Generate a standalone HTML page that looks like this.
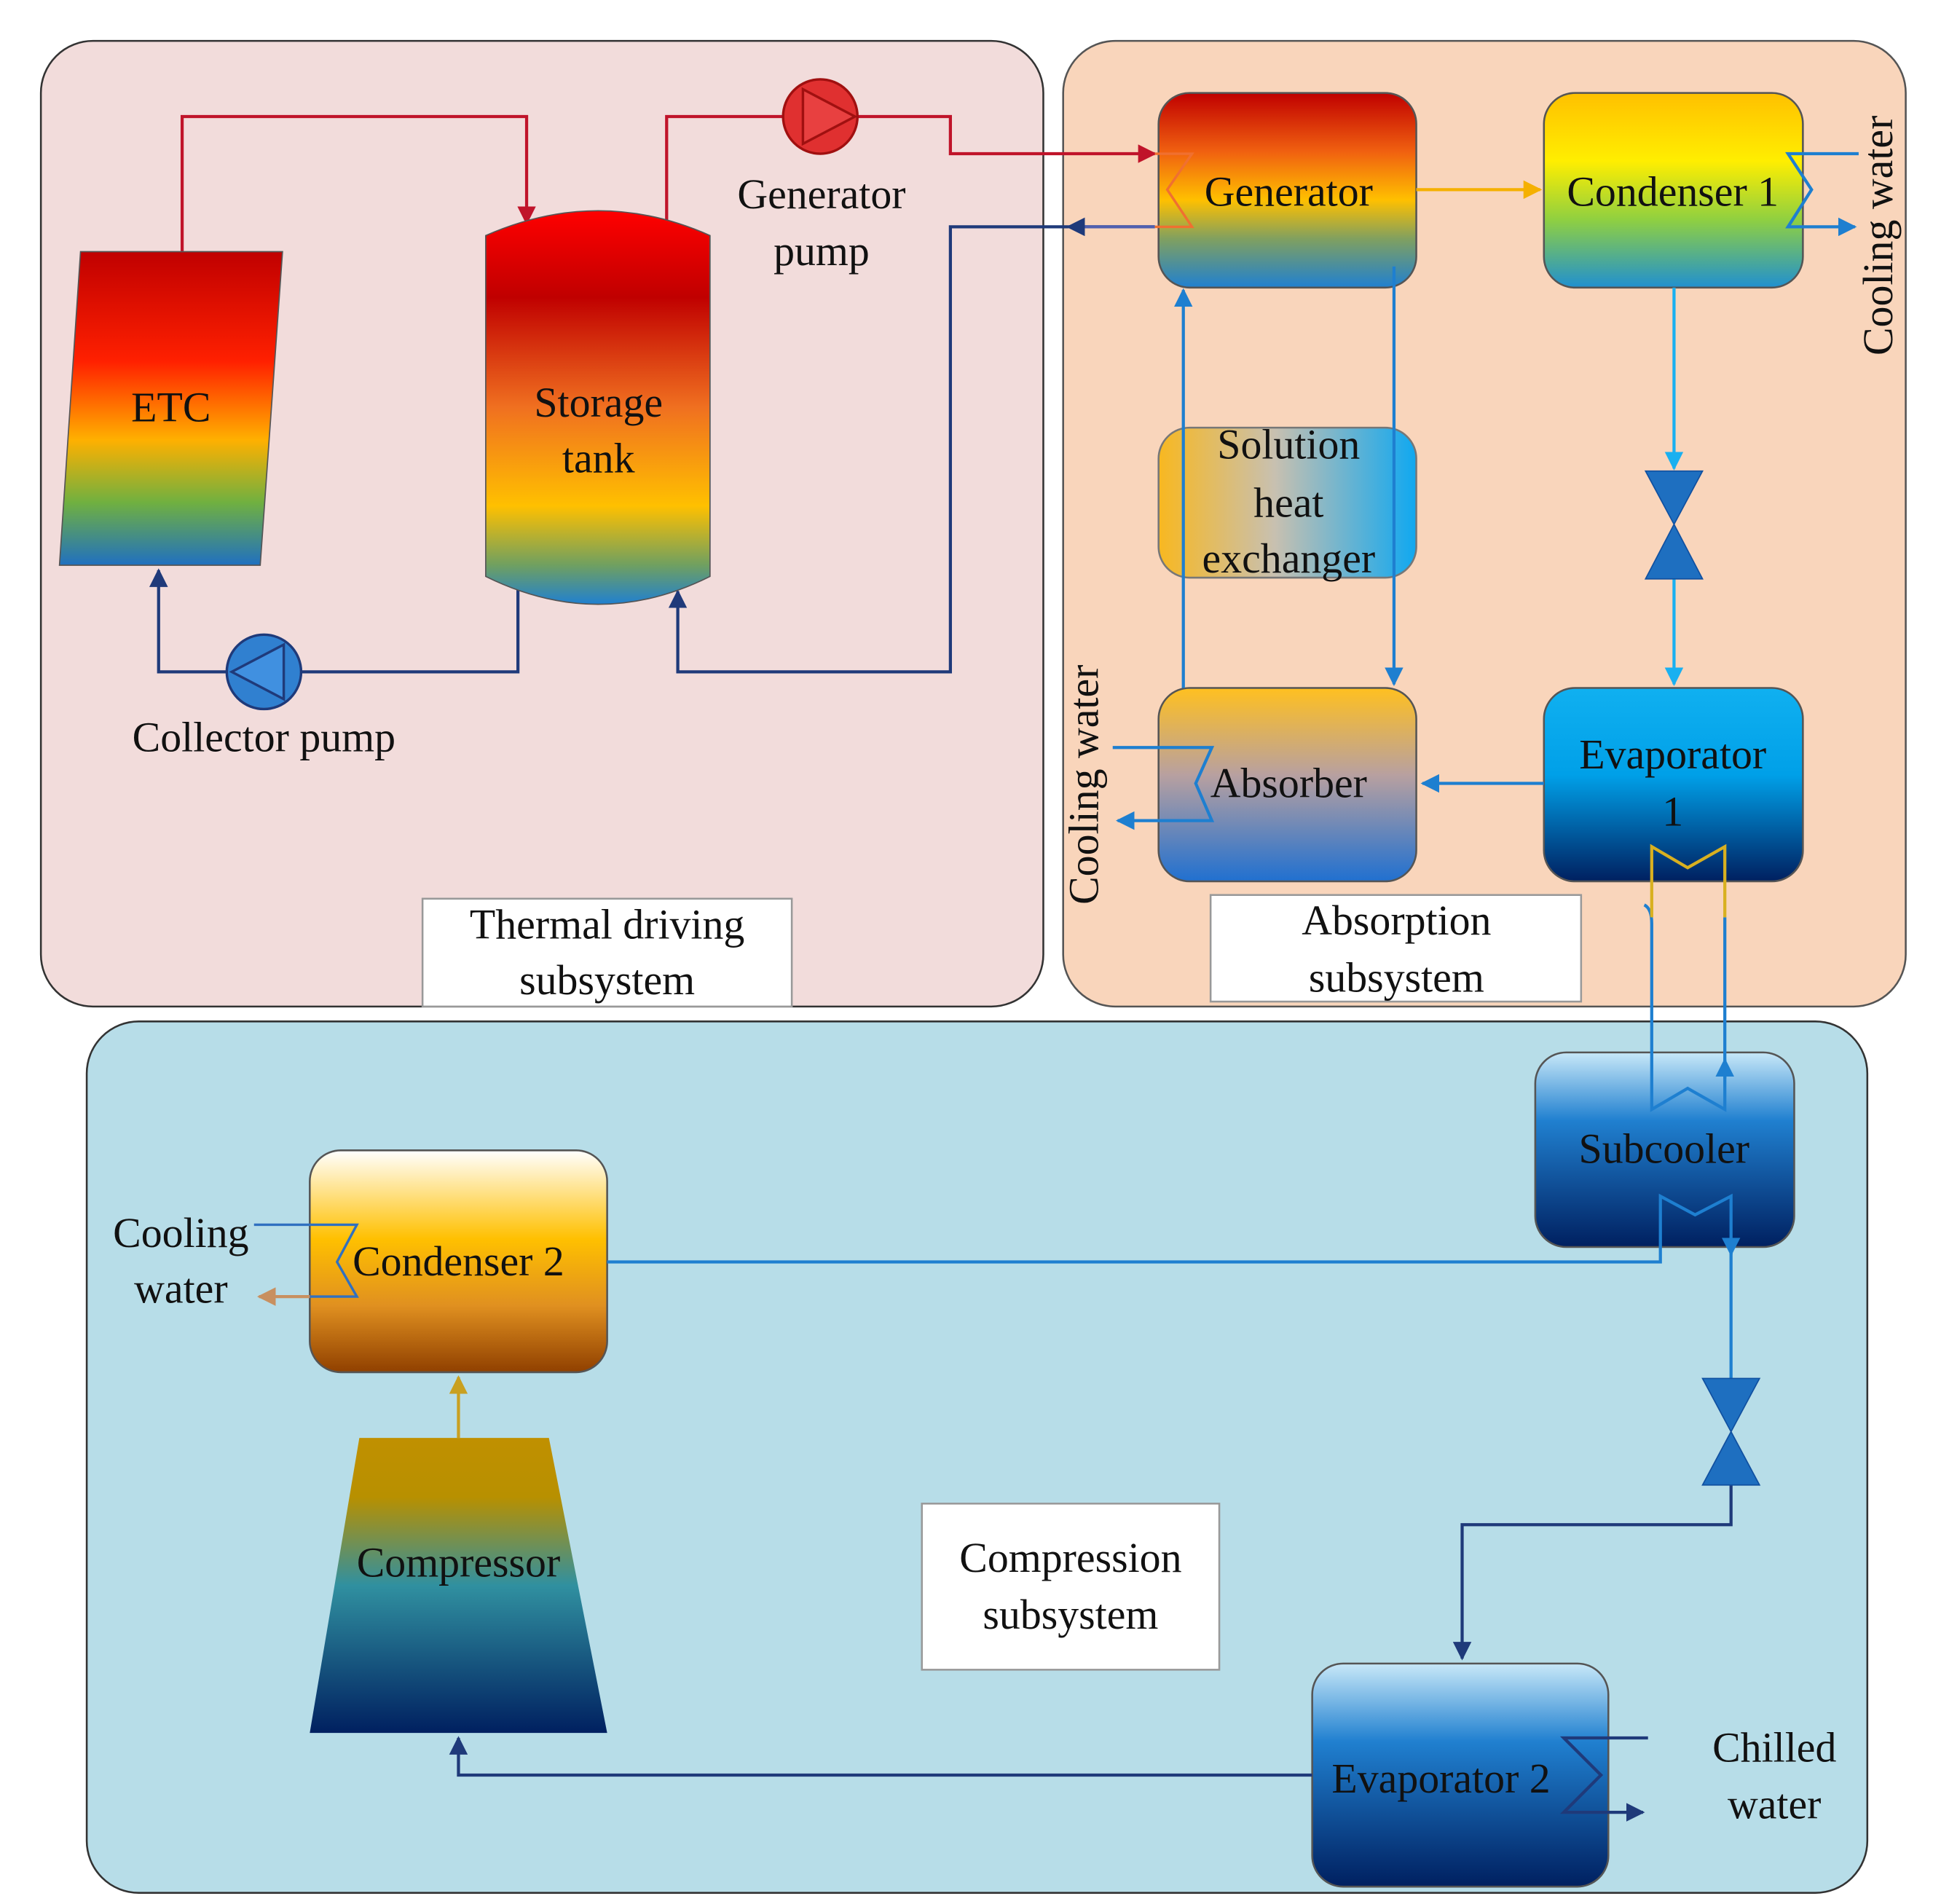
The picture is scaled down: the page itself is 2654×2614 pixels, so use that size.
<!DOCTYPE html>
<html><head><meta charset="utf-8"><style>
html,body{margin:0;padding:0;background:#fff}
svg{display:block}
text{font-family:"Liberation Serif",serif;font-size:34px;fill:#111;text-anchor:middle}
</style></head><body>
<svg width="2654" height="2614" viewBox="0 0 1560 1536" preserveAspectRatio="none" xmlns="http://www.w3.org/2000/svg">
<defs>
<marker id="aR" viewBox="0 0 10 10" refX="9" refY="5" markerWidth="6" markerHeight="6" orient="auto"><path d="M0,0 L10,5 L0,10 z" fill="#c0142a"/></marker>
<marker id="aB" viewBox="0 0 10 10" refX="9" refY="5" markerWidth="6" markerHeight="6" orient="auto"><path d="M0,0 L10,5 L0,10 z" fill="#1f3a7a"/></marker>
<marker id="aL" viewBox="0 0 10 10" refX="9" refY="5" markerWidth="6" markerHeight="6" orient="auto"><path d="M0,0 L10,5 L0,10 z" fill="#1e7fd0"/></marker>
<marker id="aC" viewBox="0 0 10 10" refX="9" refY="5" markerWidth="6" markerHeight="6" orient="auto"><path d="M0,0 L10,5 L0,10 z" fill="#1ab0f0"/></marker>
<marker id="aO" viewBox="0 0 10 10" refX="9" refY="5" markerWidth="6" markerHeight="6" orient="auto"><path d="M0,0 L10,5 L0,10 z" fill="#f5b000"/></marker>
<marker id="aG" viewBox="0 0 10 10" refX="9" refY="5" markerWidth="6" markerHeight="6" orient="auto"><path d="M0,0 L10,5 L0,10 z" fill="#c9a020"/></marker>
<marker id="aBr" viewBox="0 0 10 10" refX="9" refY="5" markerWidth="6" markerHeight="6" orient="auto"><path d="M0,0 L10,5 L0,10 z" fill="#c89060"/></marker>
<linearGradient id="gETC" x1="0" y1="0" x2="0" y2="1"><stop offset="0" stop-color="#c00000"/><stop offset="0.35" stop-color="#ff2000"/><stop offset="0.6" stop-color="#ffb000"/><stop offset="0.8" stop-color="#70b040"/><stop offset="1" stop-color="#2070c0"/></linearGradient>
<linearGradient id="gTank" x1="0" y1="0" x2="0" y2="1"><stop offset="0" stop-color="#ff0000"/><stop offset="0.22" stop-color="#c00000"/><stop offset="0.5" stop-color="#f07020"/><stop offset="0.75" stop-color="#ffc000"/><stop offset="0.9" stop-color="#70a060"/><stop offset="1" stop-color="#2080d0"/></linearGradient>
<linearGradient id="gGen" x1="0" y1="0" x2="0" y2="1"><stop offset="0" stop-color="#c00000"/><stop offset="0.3" stop-color="#f06010"/><stop offset="0.55" stop-color="#ffc000"/><stop offset="0.75" stop-color="#80a060"/><stop offset="1" stop-color="#2080d0"/></linearGradient>
<linearGradient id="gCon1" x1="0" y1="0" x2="0" y2="1"><stop offset="0" stop-color="#ffc000"/><stop offset="0.35" stop-color="#ffee00"/><stop offset="0.65" stop-color="#90d040"/><stop offset="1" stop-color="#2090d0"/></linearGradient>
<linearGradient id="gShx" x1="0" y1="0" x2="1" y2="0"><stop offset="0" stop-color="#f8b820"/><stop offset="0.45" stop-color="#c8c0b0"/><stop offset="1" stop-color="#10a8f0"/></linearGradient>
<linearGradient id="gAbs" x1="0" y1="0" x2="0" y2="1"><stop offset="0" stop-color="#ffc020"/><stop offset="0.45" stop-color="#b8a0a0"/><stop offset="1" stop-color="#2070d0"/></linearGradient>
<linearGradient id="gEva" x1="0" y1="0" x2="0" y2="1"><stop offset="0" stop-color="#10b0f0"/><stop offset="0.45" stop-color="#00a0e8"/><stop offset="1" stop-color="#002060"/></linearGradient>
<linearGradient id="gSub" x1="0" y1="0" x2="0" y2="1"><stop offset="0" stop-color="#c8e8f8"/><stop offset="0.35" stop-color="#2080d0"/><stop offset="1" stop-color="#002060"/></linearGradient>
<linearGradient id="gCon2" x1="0" y1="0" x2="0" y2="1"><stop offset="0" stop-color="#ffffff"/><stop offset="0.4" stop-color="#ffc000"/><stop offset="0.7" stop-color="#e09020"/><stop offset="1" stop-color="#904000"/></linearGradient>
<linearGradient id="gComp" x1="0" y1="0" x2="0" y2="1"><stop offset="0" stop-color="#c09000"/><stop offset="0.2" stop-color="#b89000"/><stop offset="0.5" stop-color="#3090a0"/><stop offset="1" stop-color="#002060"/></linearGradient>
</defs>

<rect x="33" y="33" width="809" height="779" rx="42" fill="#f2dcdb" stroke="#333" stroke-width="1.5"/>
<rect x="858" y="33" width="680" height="779" rx="42" fill="#f9d5bb" stroke="#555" stroke-width="1.5"/>
<rect x="70" y="824" width="1437" height="703" rx="42" fill="#b7dde8" stroke="#333" stroke-width="1.5"/>

<g fill="none" stroke-width="2.5">
<path d="M147,203 V94 H425 V180" stroke="#c0142a" marker-end="url(#aR)"/>
<path d="M538,180 V94 H632" stroke="#c0142a"/>
<path d="M692,94 H767 V124 H932" stroke="#c0142a" marker-end="url(#aR)"/>
<path d="M932,183 H767 V542 H547 V477" stroke="#1f3a7a" marker-end="url(#aB)"/>
<path d="M932,183 H862" stroke="#5060b0" marker-end="url(#aB)"/>
<path d="M418,470 V542 H243" stroke="#1f3a7a"/>
<path d="M183,542 H128 V460" stroke="#1f3a7a" marker-end="url(#aB)"/>
</g>

<polygon points="65,203 228,203 210,456 48,456" fill="url(#gETC)" stroke="#555" stroke-width="1"/>
<text x="138" y="340">ETC</text>
<path d="M392,190 Q483,150 573,190 V465 Q483,510 392,465 Z" fill="url(#gTank)" stroke="#555" stroke-width="1"/>
<text x="483" y="336">Storage</text><text x="483" y="381">tank</text>

<circle cx="662" cy="94" r="30" fill="#e03030" stroke="#a01010" stroke-width="2"/>
<polygon points="648,72 690,94 648,116" fill="#e84040" stroke="#a01010" stroke-width="2"/>
<text x="663" y="168">Generator</text><text x="663" y="214">pump</text>
<circle cx="213" cy="542" r="30" fill="#3080d0" stroke="#1f3a7a" stroke-width="2"/>
<polygon points="229,520 187,542 229,564" fill="#4090e0" stroke="#1f3a7a" stroke-width="2"/>
<text x="213" y="606">Collector pump</text>

<rect x="341" y="725" width="298" height="87" fill="#fff" stroke="#999" stroke-width="1.5"/>
<text x="490" y="757">Thermal driving</text><text x="490" y="802">subsystem</text>

<rect x="935" y="75" width="208" height="157" rx="25" fill="url(#gGen)" stroke="#555" stroke-width="1.5"/>
<rect x="1246" y="75" width="209" height="157" rx="25" fill="url(#gCon1)" stroke="#555" stroke-width="1.5"/>
<rect x="935" y="345" width="208" height="121" rx="25" fill="url(#gShx)" stroke="#777" stroke-width="1.5"/>
<rect x="935" y="555" width="208" height="156" rx="25" fill="url(#gAbs)" stroke="#555" stroke-width="1.5"/>
<rect x="1246" y="555" width="209" height="156" rx="25" fill="url(#gEva)" stroke="#555" stroke-width="1.5"/>

<rect x="1239" y="849" width="209" height="157" rx="25" fill="url(#gSub)" stroke="#555" stroke-width="1.5"/>
<rect x="250" y="928" width="240" height="179" rx="25" fill="url(#gCon2)" stroke="#555" stroke-width="1.5"/>
<polygon points="290,1160 443,1160 490,1398 250,1398" fill="url(#gComp)"/>
<rect x="1059" y="1342" width="239" height="180" rx="25" fill="url(#gSub)" stroke="#555" stroke-width="1.5"/>

<g fill="none" stroke-width="2.5">
<path d="M1143,153 H1243" stroke="#f5b000" marker-end="url(#aO)"/>
<path d="M1125,215 V552" stroke="#1e7fd0" marker-end="url(#aL)"/>
<path d="M955,555 V234" stroke="#1e7fd0" marker-end="url(#aL)"/>
<path d="M1351,232 V378" stroke="#1ab0f0" marker-end="url(#aC)"/>
<path d="M1351,467 V552" stroke="#1ab0f0" marker-end="url(#aC)"/>
<path d="M1246,632 H1148" stroke="#1e7fd0" marker-end="url(#aL)"/>
<path d="M932,124 H962 L942,153 L962,183 H932" stroke="#f07030" stroke-width="2"/>
<path d="M1500,124 H1443 L1462,153 L1443,183 H1497" stroke="#1e7fd0" marker-end="url(#aL)"/>
<path d="M898,603 H978 L965,632 L978,662 H902" stroke="#1e7fd0" marker-end="url(#aL)"/>
<path d="M1327,730 Q1333,733 1333,745 V895 L1362,878 L1392,895 V740" stroke="#1e7fd0"/>
<path d="M1392,870 V855" stroke="#1e7fd0" marker-end="url(#aL)"/>
<path d="M1333,740 V683 L1362,700 L1392,683 V740" stroke="#d8b020"/>
<path d="M490,1018 H1340 V965 L1368,980 L1397,965 V1012" stroke="#1e7fd0" marker-end="url(#aL)"/>
<path d="M1397,1010 V1112" stroke="#1e7fd0"/>
<path d="M1397,1198 V1230 H1180 V1338" stroke="#1f3a7a" marker-end="url(#aB)"/>
<path d="M1059,1432 H370 V1402" stroke="#1f3a7a" marker-end="url(#aB)"/>
<path d="M370,1160 V1111" stroke="#c9a020" marker-end="url(#aG)"/>
<path d="M205,988 H288 L272,1018 L288,1046 H250" stroke="#3070c0" stroke-width="2"/>
<path d="M250,1046 H209" stroke="#c89060" marker-end="url(#aBr)"/>
<path d="M1330,1402 H1262 L1292,1432 L1262,1462 H1326" stroke="#1f3a7a" marker-end="url(#aB)"/>
</g>
<polygon points="1328,380 1374,380 1351,423" fill="#1e6fc0" stroke="#1050a0"/>
<polygon points="1328,467 1374,467 1351,423" fill="#1e6fc0" stroke="#1050a0"/>
<polygon points="1374,1112 1420,1112 1397,1155" fill="#1e6fc0" stroke="#1050a0"/>
<polygon points="1374,1198 1420,1198 1397,1155" fill="#1e6fc0" stroke="#1050a0"/>

<text x="1040" y="166">Generator</text>
<text x="1350" y="166">Condenser 1</text>
<text x="1040" y="370">Solution</text><text x="1040" y="417">heat</text><text x="1040" y="462">exchanger</text>
<text x="1040" y="643">Absorber</text>
<text x="1350" y="620">Evaporator</text><text x="1350" y="666">1</text>
<text transform="translate(1527,190) rotate(-90)">Cooling water</text>
<text transform="translate(886,633) rotate(-90)">Cooling water</text>

<rect x="977" y="722" width="299" height="86" fill="#fff" stroke="#999" stroke-width="1.5"/>
<text x="1127" y="754">Absorption</text><text x="1127" y="800">subsystem</text>

<text x="1343" y="938">Subcooler</text>
<text x="370" y="1029">Condenser 2</text>
<text x="146" y="1006">Cooling</text><text x="146" y="1051">water</text>
<text x="370" y="1272">Compressor</text>
<text x="1163" y="1446">Evaporator 2</text>
<text x="1432" y="1421">Chilled</text><text x="1432" y="1467">water</text>

<rect x="744" y="1213" width="240" height="134" fill="#fff" stroke="#999" stroke-width="1.5"/>
<text x="864" y="1268">Compression</text><text x="864" y="1314">subsystem</text>
</svg>
</body></html>
